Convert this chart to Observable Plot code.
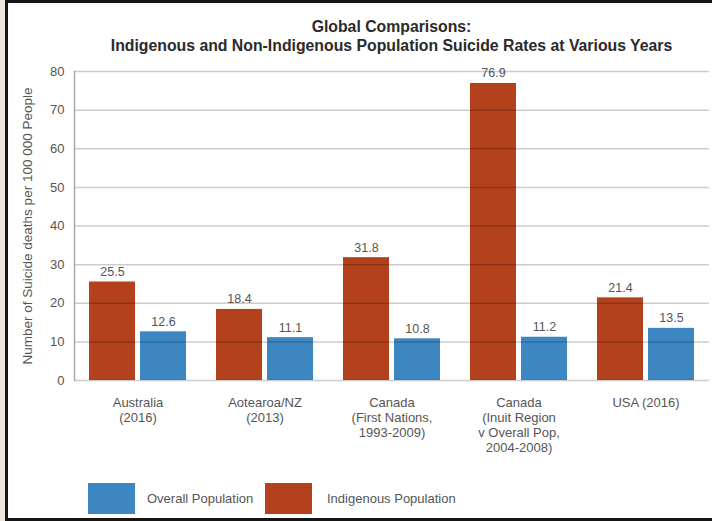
<!DOCTYPE html>
<html>
<head>
<meta charset="utf-8">
<script src="https://cdn.jsdelivr.net/npm/d3@7"></script>
<script src="https://cdn.jsdelivr.net/npm/@observablehq/plot@0.6"></script>
<style>
  html, body { margin: 0; padding: 0; }
  body { width: 712px; height: 521px; position: relative; overflow: hidden; background: #ece8dc;
         font-family: 'Liberation Sans', Arial, Helvetica, sans-serif; }
  #frame { position: absolute; left: 5px; top: 0; width: 707px; height: 521px; box-sizing: border-box;
           border-left: 3px solid #151515; border-top: 3px solid #151515; border-bottom: 3px solid #151515; background: #fff; }
  #title { position: absolute; top: 17px; left: 73px; width: 637px; text-align: center; font-weight: bold;
           font-size: 15.8px; line-height: 19px; color: #2a2a2a; }
  #chart { position: absolute; left: 0; top: 60px; }
  #legend { position: absolute; left: 88px; top: 483px; display: flex; align-items: center; font-size: 13px; color: #555; }
  .sw { width: 47px; height: 31px; display: inline-block; }
  .lab1 { margin-left: 12px; width: 118px; }
  .lab2 { margin-left: 15px; }
</style>
</head>
<body>
<div id="frame"></div>
<div id="title"></div>
<div id="chart"></div>
<div id="legend"></div>
<script>
const titleLines = ["Global Comparisons:", "Indigenous and Non-Indigenous Population Suicide Rates at Various Years"];
const groups = ["Australia\n(2016)", "Aotearoa/NZ\n(2013)", "Canada\n(First Nations,\n1993-2009)", "Canada\n(Inuit Region\nv Overall Pop,\n2004-2008)", "USA (2016)"];
const series = ["Indigenous Population", "Overall Population"];
const indigenous = [25.5, 18.4, 31.8, 76.9, 21.4];
const overall = [12.6, 11.1, 10.8, 11.2, 13.5];
const yTicks = [0, 10, 20, 30, 40, 50, 60, 70, 80];
const yLabel = "Number of Suicide deaths per 100 000 People";
const legendOrder = ["Overall Population", "Indigenous Population"];
const colors = {"Indigenous Population": "#b3411c", "Overall Population": "#3c86c1"};

const rows = [];
groups.forEach((g, i) => {
  rows.push({group: g, series: series[0], value: indigenous[i]});
  rows.push({group: g, series: series[1], value: overall[i]});
});

document.getElementById("title").innerHTML = titleLines.join("<br>");

const chart = Plot.plot({
  width: 712,
  height: 400,
  marginLeft: 73,
  marginRight: 2,
  marginTop: 11,
  marginBottom: 80,
  style: {fontFamily: "'Liberation Sans', Arial, Helvetica, sans-serif", fontSize: "13px", color: "#555", background: "transparent"},
  fx: {domain: groups, padding: 0},
  x: {domain: series, paddingInner: 0.09, paddingOuter: 0.29, axis: null},
  y: {domain: [0, 80]},
  color: {domain: series, range: series.map(s => colors[s])},
  marks: [
    Plot.barY(rows, {fx: "group", x: "series", y: "value", fill: "series"}),
    Plot.gridY(yTicks, {stroke: "#000", strokeOpacity: 0.2, strokeWidth: 1.5}),
    Plot.frame({anchor: "left", facet: "super", stroke: "#aaa", strokeWidth: 1.5}),
    Plot.text(rows, {fx: "group", x: "series", y: "value", text: d => d.value.toFixed(1), dy: -10, fill: "#555", fontSize: 12.5}),
    Plot.axisY(yTicks, {tickSize: 0, tickPadding: 10, label: yLabel, labelAnchor: "center", labelArrow: false, labelOffset: 52, fontSize: 13}),
    Plot.axisFx({anchor: "bottom", tickSize: 0, tickPadding: 16, lineHeight: 1.16, label: null, fontSize: 13})
  ]
});
// enlarge the rotated y-axis title slightly to match the reference
chart.querySelectorAll("text").forEach(t => {
  if (t.textContent === yLabel) t.setAttribute("font-size", "13.5");
});
document.getElementById("chart").appendChild(chart);

const legend = document.getElementById("legend");
legendOrder.forEach((s, i) => {
  const sw = document.createElement("span");
  sw.className = "sw";
  sw.style.background = colors[s];
  const lab = document.createElement("span");
  lab.className = i === 0 ? "lab1" : "lab2";
  lab.textContent = s;
  legend.appendChild(sw);
  legend.appendChild(lab);
});
</script>
</body>
</html>
